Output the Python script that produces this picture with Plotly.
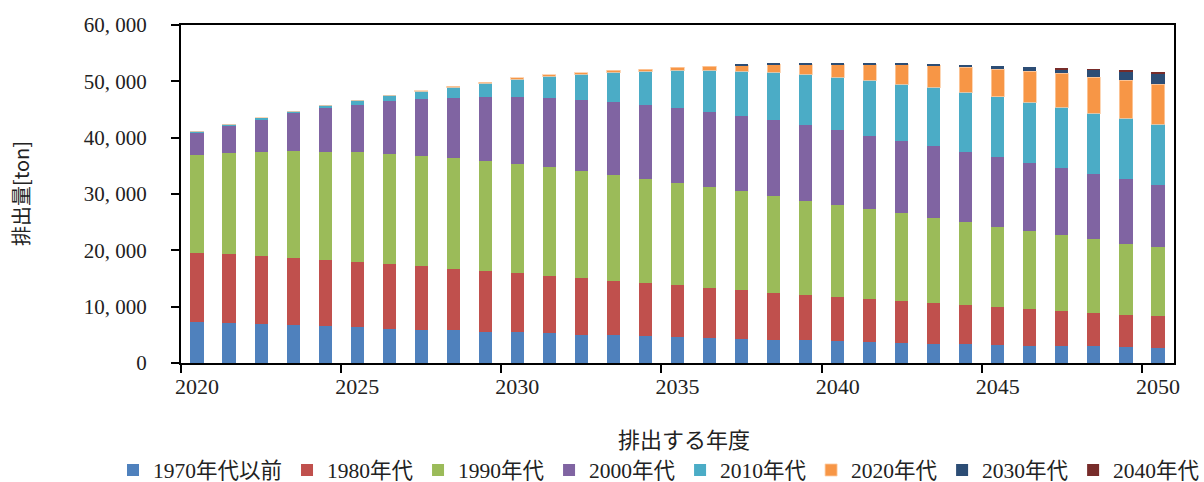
import plotly.graph_objects as go

# Emission years (category axis) and tick labels
years = list(range(2020, 2051))
x_label_years = [2020, 2025, 2030, 2035, 2040, 2045, 2050]
y_ticks = [0, 10000, 20000, 30000, 40000, 50000, 60000]

# Emissions [ton] by construction decade, one value per year 2020-2050
pre_1970s = [7285, 7048, 6930, 6693, 6575, 6338, 5982, 5864, 5864, 5508, 5508,
             5271, 4916, 4916, 4798, 4561, 4442, 4205, 4087, 4087, 3850,
             3731, 3495, 3376, 3376, 3139, 3021, 3021, 3021, 2784, 2665]
dec_1980s = [12201, 12261, 12024, 11905, 11668, 11550, 11550, 11313, 10780, 10780, 10424,
             10128, 10128, 9595, 9358, 9240, 8825, 8707, 8292, 7937, 7818,
             7581, 7463, 7226, 6871, 6752, 6515, 6160, 5805, 5686, 5627]
dec_1990s = [17414, 17947, 18480, 19013, 19190, 19546, 19546, 19546, 19724, 19546, 19368,
             19368, 19013, 18835, 18480, 18124, 17947, 17591, 17236, 16703, 16347,
             15992, 15637, 15104, 14748, 14215, 13860, 13504, 13149, 12616, 12261]
dec_2000s = [4087, 4975, 5864, 6752, 7818, 8351, 9418, 10128, 10661, 11372, 11905,
             12261, 12616, 12971, 13149, 13327, 13327, 13327, 13504, 13504, 13327,
             12971, 12794, 12794, 12438, 12438, 12083, 11905, 11550, 11550, 11017]
dec_2010s = [180, 178, 237, 355, 533, 888, 1066, 1422, 1955, 2488, 3198,
             3909, 4620, 5331, 6041, 6752, 7463, 7996, 8529, 9062, 9418,
             9951, 10128, 10424, 10661, 10721, 10839, 10839, 10839, 10839, 10839]
dec_2020s = [0, 0, 0, 0, 0, 0, 0, 100, 150, 180, 200,
             220, 250, 300, 355, 533, 711, 1066, 1422, 1777, 2310,
             2843, 3554, 3968, 4442, 4916, 5508, 6041, 6397, 6752, 7108]
dec_2030s = [0, 0, 0, 0, 0, 0, 0, 0, 0, 0, 0,
             0, 0, 0, 0, 0, 0, 100, 120, 140, 160,
             180, 200, 250, 355, 533, 711, 711, 1303, 1481, 1836]
dec_2040s = [0, 0, 0, 0, 0, 0, 0, 0, 0, 0, 0,
             0, 0, 0, 0, 0, 0, 0, 0, 0, 0,
             0, 0, 0, 0, 0, 0, 100, 120, 130, 150]

series_names = ["1970年代以前", "1980年代", "1990年代", "2000年代",
                "2010年代", "2020年代", "2030年代", "2040年代"]
series_values = [pre_1970s, dec_1980s, dec_1990s, dec_2000s,
                 dec_2010s, dec_2020s, dec_2030s, dec_2040s]
series_colors = ["#4F81BD", "#C0504D", "#9BBB59", "#8064A2",
                 "#4BACC6", "#F79646", "#2C4D75", "#772C2A"]

SERIF = "Liberation Serif, Noto Sans CJK JP, serif"
W, H = 1204, 482
ML, MR, MT, MB = 181, 30, 25, 119
PW, PH = W - ML - MR, H - MT - MB


def px_to_paper(px, py):
    return (px - ML) / PW, (H - MB - py) / PH


fig = go.Figure()
for name, vals, color in zip(series_names, series_values, series_colors):
    outline = dict(width=0)
    if name == "2020年代":
        outline = dict(color="rgba(252,205,165,0.8)", width=1)
    fig.add_bar(x=years, y=vals, name=name, marker=dict(color=color, line=outline))

# Legend sits below and left of the plot area so that it stays on one row
lx, ly = px_to_paper(113, 470)

fig.update_layout(
    width=W, height=H,
    barmode="stack",
    bargap=0.59,
    paper_bgcolor="white",
    plot_bgcolor="white",
    margin=dict(l=ML, r=MR, t=MT, b=MB, autoexpand=False),
    font=dict(family=SERIF, size=21, color="#222"),
    showlegend=True,
    legend=dict(
        orientation="h",
        traceorder="normal",
        xref="paper", yref="paper",
        x=lx, xanchor="left",
        y=ly, yanchor="middle",
        font=dict(family=SERIF, size=21.5, color="#222"),
        bgcolor="rgba(0,0,0,0)",
    ),
)

fig.update_xaxes(
    range=[2019.5, 2050.5],
    tickmode="array",
    tickvals=x_label_years,
    ticktext=[str(y) for y in x_label_years],
    ticks="",
    tickfont=dict(family=SERIF, size=22),
    ticklabelstandoff=3,
    showline=True, linecolor="black", linewidth=2, mirror=True,
    showgrid=False, zeroline=False,
    minor=dict(
        tickmode="array",
        tickvals=[y - 0.5 for y in x_label_years],
        ticks="outside", ticklen=8, tickwidth=2, tickcolor="black",
        showgrid=False,
    ),
)

fig.update_yaxes(
    range=[0, 60000],
    tickmode="array",
    tickvals=y_ticks,
    ticktext=[f"{v:,}".replace(",", ", ") for v in y_ticks],
    ticks="outside", ticklen=8, tickwidth=2, tickcolor="black",
    tickfont=dict(family=SERIF, size=21),
    ticklabelstandoff=20,
    showline=True, linecolor="black", linewidth=2, mirror=True,
    showgrid=False, zeroline=False,
)

# Axis titles
yx, yy = px_to_paper(20, 194)
fig.add_annotation(
    text="排出量[ton]", textangle=-90,
    xref="paper", yref="paper",
    x=yx, y=yy, xanchor="center", yanchor="middle",
    showarrow=False,
    font=dict(family="Noto Sans CJK JP, sans-serif", size=20, color="#222"),
)
xx, xy = px_to_paper(684, 438)
fig.add_annotation(
    text="排出する年度",
    xref="paper", yref="paper",
    x=xx, y=xy, xanchor="center", yanchor="middle",
    showarrow=False,
    font=dict(family="Noto Sans CJK JP, sans-serif", size=22, color="#222"),
)

fig.write_html("out.html")
